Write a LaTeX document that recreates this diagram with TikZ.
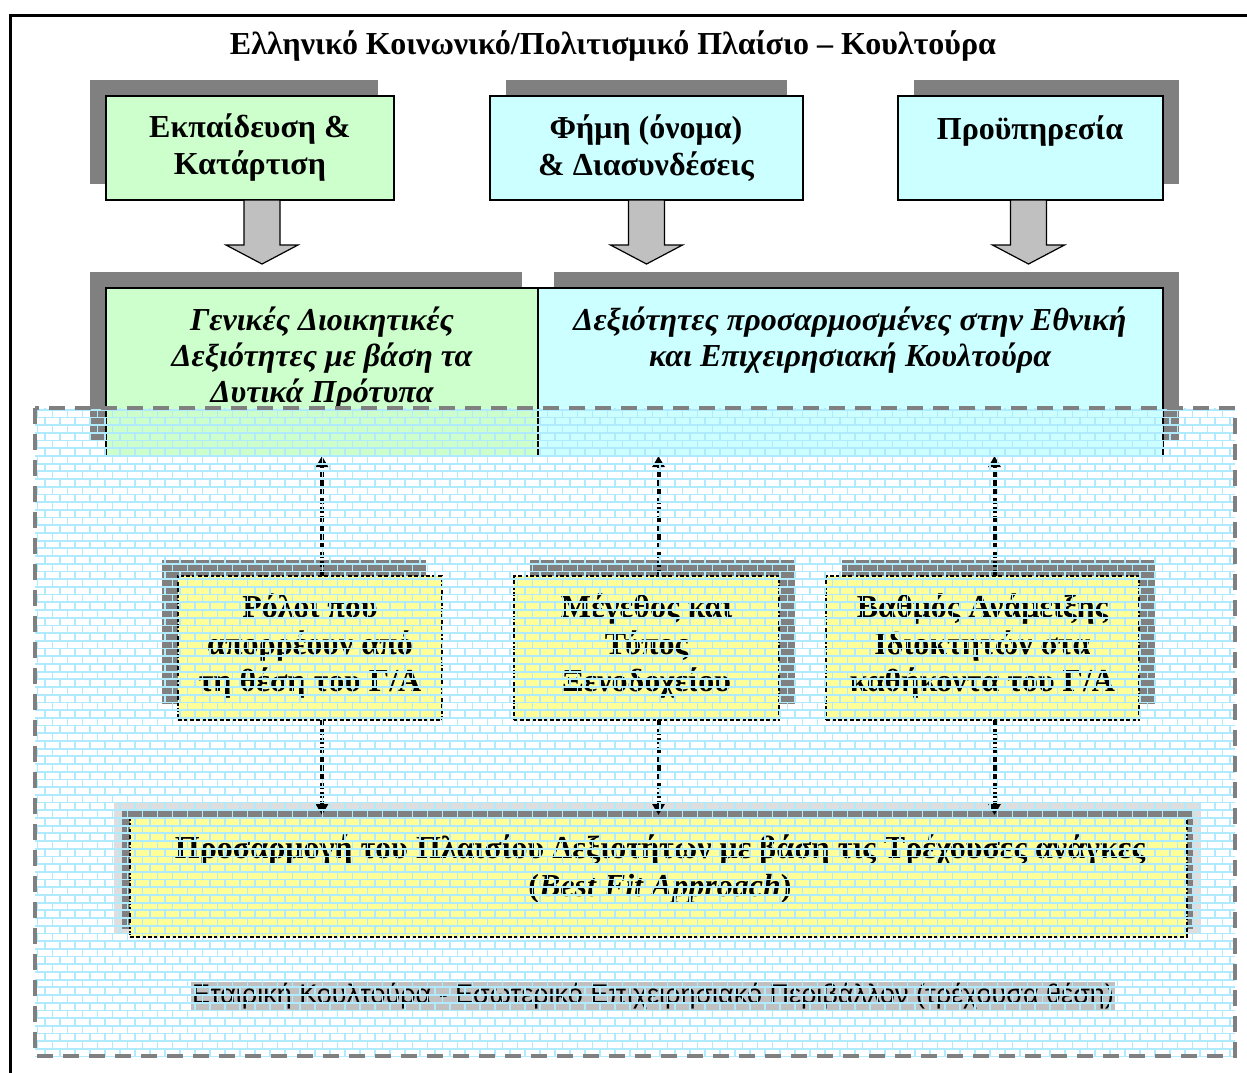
\documentclass[tikz,border=0pt]{standalone}
\usepackage{fontspec}
\setmainfont{Liberation Serif}
\setsansfont{Liberation Sans}
\usetikzlibrary{arrows.meta,calc,patterns}

\definecolor{boxgreen}{HTML}{CCFFCC}
\definecolor{boxcyan}{HTML}{CCFFFF}
\definecolor{boxyellow}{HTML}{FFFF99}
\definecolor{shadowgray}{HTML}{808080}
\definecolor{arrowgray}{HTML}{C0C0C0}
\definecolor{lightshadow}{HTML}{DEDEDE}
\definecolor{mortar}{RGB}{175,234,255}
\definecolor{hilite}{HTML}{C0C0C0}

\pgfdeclarepatternformonly{mybricks}{\pgfpoint{-2pt}{-2pt}}{\pgfpoint{17pt}{17.4pt}}{\pgfpoint{15pt}{15.4pt}}{%
  \pgfsetlinewidth{1.8pt}%
  \pgfpathmoveto{\pgfpoint{-2pt}{0pt}}\pgfpathlineto{\pgfpoint{17pt}{0pt}}%
  \pgfpathmoveto{\pgfpoint{-2pt}{7.7pt}}\pgfpathlineto{\pgfpoint{17pt}{7.7pt}}%
  \pgfpathmoveto{\pgfpoint{0pt}{0pt}}\pgfpathlineto{\pgfpoint{0pt}{7.7pt}}%
  \pgfpathmoveto{\pgfpoint{15pt}{0pt}}\pgfpathlineto{\pgfpoint{15pt}{7.7pt}}%
  \pgfpathmoveto{\pgfpoint{7.5pt}{7.7pt}}\pgfpathlineto{\pgfpoint{7.5pt}{15.4pt}}%
  \pgfusepath{stroke}%
}

\begin{document}
\begin{tikzpicture}[x=1pt,y=-1pt,
  box/.style={draw=black,line width=1.5pt,anchor=north west,inner sep=0pt,outer sep=0pt},
  dashbox/.style={box,dash pattern=on 4pt off 2pt},
  txt/.style={align=center,inner sep=0pt,font={\bfseries\fontsize{32}{37}\selectfont}},
  itxt/.style={txt,font={\bfseries\itshape\fontsize{32}{36}\selectfont}},
  blockarrow/.style={draw=black,line width=1.2pt,fill=arrowgray,line join=miter},
  conn/.style={draw=black,line width=4pt,dash pattern=on 6pt off 3pt,-{Triangle[width=12pt,length=11pt]}},
]
\useasboundingbox (0,0) rectangle (1247,1072);
\fill[white] (0,0) rectangle (1247,1072);

% outer frame
\begin{scope}
\clip (0,0) rectangle (1247,1072);
\draw[line width=3pt] (10,15) rectangle (1265,1090);
\end{scope}

% title
\node[txt] (title) at (613,46) {Ελληνικό Κοινωνικό/Πολιτισμικό Πλαίσιο – Κουλτούρα};

% shadows
\fill[shadowgray] (90,80) rectangle (378,184);
\fill[shadowgray] (506,80) rectangle (787,184);
\fill[shadowgray] (914,80) rectangle (1179,184);
\fill[shadowgray] (90,272) rectangle (522,440);
\fill[shadowgray] (554,272) rectangle (1179,440);
\fill[shadowgray] (162,560) rectangle (426,704);
\fill[shadowgray] (530,560) rectangle (795,704);
\fill[shadowgray] (842,560) rectangle (1155,704);
\fill[lightshadow] (114,802) rectangle (1201,933);
\fill[shadowgray] (122,810) rectangle (1193,929);

% top boxes
\node[box,fill=boxgreen,minimum width=288pt,minimum height=104pt] (t1) at (106,96) {};
\node[box,fill=boxcyan,minimum width=313pt,minimum height=104pt] (t2) at (490,96) {};
\node[box,fill=boxcyan,minimum width=265pt,minimum height=104pt] (t3) at (898,96) {};

\node[txt] (t1text) at (250,148) {Εκπαίδευση \&\\Κατάρτιση};
\node[txt] (t2text) at (646,148) {Φήμη (όνομα)\\\& Διασυνδέσεις};
\node[txt] (t3text) at (1030,131) {Προϋπηρεσία};

% block arrows
\coordinate (a1) at ($(t1.south)+(12,0)$);
\coordinate (a2) at (t2.south);
\coordinate (a3) at ($(t3.south)+(-2,0)$);
\foreach \a in {a1,a2,a3}{
  \draw[blockarrow] ($(\a)+(-18,0)$) -- ++(0,45) -- ++(-18,0) -- ($(\a)+(0,64)$)
     -- ($(\a)+(36,45)$) -- ++(-18,0) -- ($(\a)+(18,0)$) -- cycle;
}

% middle row
\node[box,fill=boxgreen,minimum width=432pt,minimum height=168pt] (mA) at (106,288) {};
\node[box,fill=boxcyan,minimum width=625pt,minimum height=168pt] (mB) at (538,288) {};
\node[itxt] (mAtext) at (322,358) {Γενικές Διοικητικές\\Δεξιότητες με βάση τα\\Δυτικά Πρότυπα};
\node[itxt] (mBtext) at (850,340) {Δεξιότητες προσαρμοσμένες στην Εθνική\\και Επιχειρησιακή Κουλτούρα};

% role boxes
\node[dashbox,fill=boxyellow,minimum width=264pt,minimum height=144pt] (r1) at (178,576) {};
\node[dashbox,fill=boxyellow,minimum width=265pt,minimum height=144pt] (r2) at (514,576) {};
\node[dashbox,fill=boxyellow,minimum width=313pt,minimum height=144pt] (r3) at (826,576) {};
\node[txt] (r1text) at ($(r1.center)+(0,-2)$) {Ρόλοι που\\απορρέουν από\\τη θέση του Γ/Α};
\node[txt] (r2text) at ($(r2.center)+(0,-2)$) {Μέγεθος και\\Τύπος\\Ξενοδοχείου};
\node[txt] (r3text) at ($(r3.center)+(0,-2)$) {Βαθμός Ανάμειξης\\Ιδιοκτητών στα\\καθήκοντα του Γ/Α};

% bottom box
\node[dashbox,fill=boxyellow,minimum width=1057pt,minimum height=119pt] (bb) at (130,818) {};
\node[txt,font={\bfseries\fontsize{32}{38}\selectfont}] (bbtext) at (660,869) {Προσαρμογή του Πλαισίου Δεξιοτήτων με βάση τις Τρέχουσες ανάγκες\\(\textit{Best Fit Approach})};

% connectors
\draw[conn] ([xshift=12pt]r1.north) -- ([xshift=12pt]r1.north |- mA.south);
\draw[conn] ([xshift=12pt]r2.north) -- ([xshift=12pt]r2.north |- mB.south);
\draw[conn] ([xshift=12pt]r3.north) -- ([xshift=12pt]r3.north |- mB.south);
\draw[conn,shorten >=3pt] ([xshift=12pt]r1.south) -- ([xshift=12pt]r1.south |- bb.north);
\draw[conn,shorten >=3pt] ([xshift=12pt]r2.south) -- ([xshift=12pt]r2.south |- bb.north);
\draw[conn,shorten >=3pt] ([xshift=12pt]r3.south) -- ([xshift=12pt]r3.south |- bb.north);

% bottom label
\node[fill=hilite,inner sep=1pt,font={\sffamily\fontsize{27}{31}\selectfont}] (env) at (653,996) {Εταιρική Κουλτούρα - Εσωτερικό Επιχειρησιακό Περιβάλλον (τρέχουσα θέση)};

% brick overlay and dashed frame
\fill[pattern=mybricks,pattern color=mortar] (35,408) rectangle (1235,1056);
\draw[shadowgray,line width=4pt,dash pattern=on 16pt off 10pt] (35,408) rectangle (1235,1056);
\end{tikzpicture}
\end{document}
